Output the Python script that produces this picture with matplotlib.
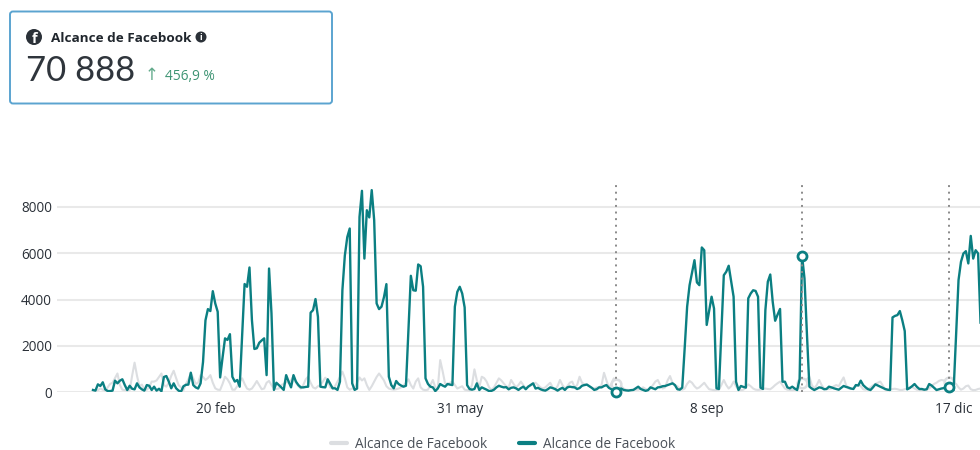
import matplotlib
matplotlib.use("Agg")
import matplotlib.pyplot as plt
import numpy as np
from matplotlib.lines import Line2D
from matplotlib.patches import Circle, FancyBboxPatch

W, H = 980, 450

# daily reach, one value per day starting 1 Jan
current_reach = [
    86, 60, 330, 260, 420, 115, 40, 40, 60, 490,
    375, 490, 550, 300, 86, 270, 140, 115, 375, 200,
    115, 60, 300, 270, 86, 230, 60, 140, 30, 650,
    690, 450, 160, 375, 160, 60, 15, 250, 310, 320,
    835, 300, 200, 150, 375, 1300, 3100, 3585, 3500, 4360,
    3830, 3470, 630, 1500, 2320, 2250, 2500, 660, 450, 520,
    230, 2500, 4670, 4550, 5385, 3110, 1860, 1890, 2130, 2230,
    2320, 730, 5340, 3400, 90, 400, 300, 200, 90, 730,
    450, 200, 730, 450, 300, 200, 200, 220, 230, 3430,
    3540, 4020, 3250, 230, 210, 200, 550, 350, 160, 160,
    90, 450, 4400, 5900, 6700, 7070, 375, 90, 150, 7570,
    8700, 5770, 7860, 7550, 8730, 7430, 3830, 3585, 3690, 4100,
    4665, 660, 300, 160, 475, 345, 280, 230, 270, 2700,
    5025, 4400, 4380, 5515, 5440, 4550, 590, 350, 230, 200,
    40, 150, 345, 280, 230, 345, 320, 300, 3690, 4330,
    4550, 4260, 3660, 300, 130, 100, 130, 375, 86, 200,
    150, 100, 40, 50, 100, 200, 270, 230, 200, 210,
    115, 180, 200, 160, 90, 170, 230, 120, 230, 300,
    375, 150, 180, 120, 80, 60, 120, 200, 170, 130,
    60, 130, 180, 90, 200, 230, 210, 200, 130, 170,
    270, 300, 320, 250, 180, 90, 120, 200, 200, 260,
    300, 180, 120, 40, 20, 100, 150, 90, 70, 60,
    80, 90, 160, 230, 130, 90, 50, 80, 200, 160,
    120, 200, 210, 250, 260, 300, 340, 375, 300, 120,
    100, 190, 1900, 3690, 4620, 5150, 5700, 4740, 4620, 6250,
    6130, 2900, 3500, 4120, 3610, 160, 130, 2600, 5050, 5200,
    5460, 4800, 4120, 445, 86, 260, 220, 190, 4050, 4260,
    4400, 4370, 4120, 190, 130, 3540, 4770, 5080, 3900, 3080,
    3350, 3590, 445, 445, 200, 160, 230, 150, 86, 550,
    5890, 4910, 2500, 230, 150, 86, 140, 200, 180, 120,
    130, 230, 200, 160, 130, 100, 180, 260, 220, 190,
    150, 130, 300, 280, 490, 300, 200, 120, 86, 200,
    330, 280, 230, 180, 130, 100, 86, 3225, 3290, 3325,
    3500, 3100, 2635, 115, 170, 250, 345, 220, 130, 130,
    100, 120, 345, 280, 180, 86, 120, 150, 170, 190,
    200, 110, 86, 2500, 4840, 5630, 5990, 6090, 5560, 6750,
    5770, 6130, 5990, 3000,
]

previous_reach = [
    100, 50, 80, 150, 100, 60, 200, 350, 400, 600,
    800, 300, 100, 80, 60, 80, 700, 1270, 700, 250,
    320, 100, 100, 200, 450, 450, 500, 650, 800, 300,
    230, 400, 700, 920, 600, 300, 200, 80, 350, 550,
    800, 600, 350, 400, 730, 650, 520, 600, 730, 400,
    160, 100, 90, 350, 660, 550, 370, 100, 100, 250,
    450, 590, 350, 150, 100, 150, 300, 475, 300, 120,
    150, 400, 480, 300, 150, 130, 150, 300, 350, 430,
    400, 500, 690, 400, 250, 150, 300, 550, 660, 400,
    200, 150, 250, 300, 450, 620, 500, 200, 150, 250,
    450, 650, 880, 600, 200, 100, 150, 150, 400, 630,
    500, 590, 300, 90, 250, 450, 650, 800, 650, 500,
    250, 150, 120, 100, 120, 150, 200, 280, 400, 550,
    300, 150, 450, 590, 200, 100, 80, 100, 300, 520,
    200, 150, 1380, 900, 370, 350, 400, 450, 300, 150,
    200, 250, 100, 80, 60, 300, 980, 500, 220, 660,
    600, 450, 200, 90, 200, 400, 590, 500, 370, 250,
    200, 520, 350, 200, 300, 450, 300, 150, 250, 280,
    350, 400, 300, 200, 150, 200, 300, 400, 200, 100,
    250, 520, 300, 150, 250, 400, 450, 200, 300, 660,
    400, 330, 330, 250, 180, 150, 200, 200, 300, 830,
    500, 200, 350, 590, 350, 300, 250, 150, 100, 90,
    80, 90, 100, 100, 150, 200, 130, 100, 150, 300,
    450, 520, 300, 150, 200, 500, 690, 400, 300, 250,
    150, 100, 150, 350, 475, 400, 250, 150, 200, 300,
    400, 250, 120, 100, 80, 80, 100, 300, 520, 300,
    150, 250, 450, 250, 100, 80, 100, 180, 330, 250,
    150, 100, 90, 100, 130, 150, 130, 120, 200, 300,
    380, 450, 300, 150, 100, 90, 80, 90, 150, 300,
    370, 450, 550, 660, 300, 150, 300, 520, 300, 150,
    120, 130, 150, 250, 300, 250, 450, 630, 300, 150,
    130, 150, 250, 320, 250, 120, 100, 130, 200, 280,
    350, 400, 450, 280, 100, 90, 100, 130, 140, 120,
    90, 90, 120, 150, 200, 220, 150, 100, 90, 90,
    90, 100, 150, 250, 350, 400, 480, 520, 500, 480,
    450, 400, 380, 350, 200, 100, 150, 250, 280, 120,
    80, 90, 130, 150,
]

tick_days = [50, 150, 251, 352]
tick_labels = ["20 feb", "31 may", "8 sep", "17 dic"]
y_ticks = [0, 2000, 4000, 6000, 8000]
marked_days = [214, 290, 350]

TEAL = "#0b7f82"
GRAY = "#dcdee1"
TEXT = "#2a3038"

plt.rcParams["font.family"] = ["Open Sans", "DejaVu Sans"]

fig = plt.figure(figsize=(W / 100, H / 100), dpi=100)

# chart area, placed in pixels
left, right, top, bottom = 57, 980, 183, 392
ax = fig.add_axes([left / W, 1 - bottom / H, (right - left) / W, (bottom - top) / H])
ax.set_xlim((left - 93) / 2.445, (right - 93) / 2.445)
ax.set_ylim(0, (bottom - top) / 0.023125)

days = np.arange(len(current_reach))
ax.plot(days, previous_reach, color=GRAY, lw=1.5, zorder=2, clip_on=False)
ax.plot(days, current_reach, color=TEAL, lw=1.7, zorder=3)

for d in marked_days:
    ax.axvline(d, color="#8a8a8a", lw=1.4, ls=(0, (1, 2.4)), zorder=4)
    ax.plot(d, previous_reach[d], "o", ms=7, mfc="white", mec=GRAY, mew=1.8, zorder=2.5, clip_on=False)
    ax.plot(d, current_reach[d], "o", ms=6.5, mfc="white", mec=TEAL, mew=2, zorder=5, clip_on=False)

ax.set_yticks(y_ticks)
ax.set_yticklabels([str(v) for v in y_ticks], fontsize=9.8, color=TEXT)
ax.set_xticks(tick_days)
ax.set_xticklabels(tick_labels, fontsize=9.8, color=TEXT)
ax.tick_params(axis="both", length=0)
ax.tick_params(axis="x", pad=7)
ax.tick_params(axis="y", pad=3.5)
ax.grid(axis="y", color="#e9e9e9", lw=1.5)
ax.set_axisbelow(True)
for side in ax.spines:
    ax.spines[side].set_visible(False)

handles = [
    Line2D([], [], color=GRAY, lw=3, solid_capstyle="round"),
    Line2D([], [], color=TEAL, lw=3, solid_capstyle="round"),
]
fig.legend(
    handles,
    ["Alcance de Facebook", "Alcance de Facebook"],
    loc="center",
    bbox_to_anchor=(503 / W, 1 - 444 / H),
    ncol=2,
    frameon=False,
    fontsize=9.8,
    handlelength=1.2,
    handletextpad=0.6,
    columnspacing=2.3,
    borderaxespad=0,
    borderpad=0,
    labelcolor="#4a5058",
)

# metric card on top, in pixel coordinates
card = fig.add_axes([0, 0, 1, 1], zorder=-1)
card.set_xlim(0, W)
card.set_ylim(H, 0)
card.axis("off")
card.add_patch(FancyBboxPatch((10, 11.5), 322, 92, boxstyle="round,pad=0,rounding_size=3",
                              fc="white", ec="#5ba4d0", lw=1.4))
card.add_patch(Circle((34, 37), 8, fc="#2b3138", ec="none"))
card.text(35, 39, "f", color="white", fontsize=10.5, fontweight="bold", ha="center", va="center")
card.text(50.5, 38.5, "Alcance de Facebook", color="#20262d", fontsize=9.7, fontweight="bold", va="center")
card.add_patch(Circle((201, 37), 5.5, fc="#2b3138", ec="none"))
card.text(201, 37.5, "i", color="white", fontsize=6.5, fontweight="bold", ha="center", va="center")
card.text(25.5, 71, "70 888", color="#2f353c", fontsize=25, family="Lato", va="center")
card.text(152, 75, "↑", color="#63ab8c", fontsize=12, ha="center", va="center", family="DejaVu Sans")
card.text(165, 76.5, "456,9 %", color="#3d9473", fontsize=9.9, va="center")

fig.savefig("out.png", dpi=100)
